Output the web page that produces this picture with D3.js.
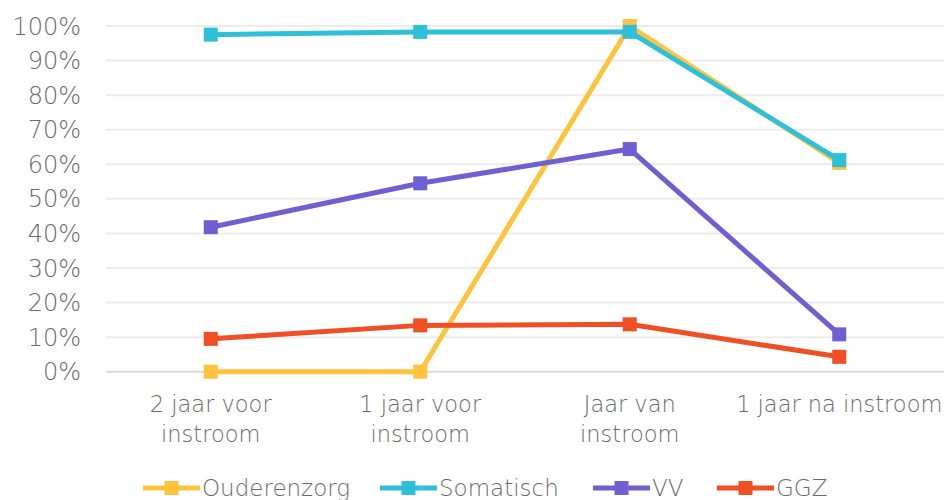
<!DOCTYPE html>
<html>
<head>
<meta charset="utf-8">
<script src="https://d3js.org/d3.v7.min.js"></script>
<style>
  body { margin: 0; background: #fff; }
  text { font-family: "DejaVu Sans", sans-serif; font-weight: 200; fill: #6a6a6a; }
</style>
</head>
<body>
<div id="chart"></div>
<script>
var categories = ["2 jaar voor|instroom", "1 jaar voor|instroom", "Jaar van|instroom", "1 jaar na instroom"];
var seriesNames = ["Ouderenzorg", "Somatisch", "VV", "GGZ"];
var ouderenzorg = [0, 0, 100, 60.4];
var somatisch = [97.5, 98.3, 98.3, 61.2];
var vv = [41.8, 54.5, 64.4, 10.8];
var ggz = [9.5, 13.4, 13.7, 4.3];
var colors = ["#ffc33c", "#2ec0d8", "#6e5fd3", "#f04e23"];
var yTicks = [0, 10, 20, 30, 40, 50, 60, 70, 80, 90, 100];

var width = 944, height = 500;
var margin = { left: 106, right: 0, top: 26, bottom: 128 };

var svg = d3.select("#chart").append("svg")
  .attr("width", width).attr("height", height);

var x = d3.scaleBand().domain(categories).range([margin.left, width - margin.right]);
var y = d3.scaleLinear().domain([0, 100]).range([height - margin.bottom - 0.3, margin.top]);

// gridlines
svg.append("g").selectAll("line").data(yTicks).enter().append("line")
  .attr("x1", margin.left).attr("x2", width)
  .attr("y1", function (d) { return y(d); }).attr("y2", function (d) { return y(d); })
  .attr("stroke", function (d) { return d === 0 ? "#d9d9d9" : "#ececec"; })
  .attr("stroke-width", 2);

// y labels
svg.append("g").selectAll("text").data(yTicks).enter().append("text")
  .attr("x", 81).attr("y", function (d) { return y(d); })
  .attr("dy", "0.36em")
  .attr("text-anchor", "end")
  .style("font-size", "24px")
  .text(function (d) { return d + "%"; });

// x labels
var xl = svg.append("g").selectAll("text").data(categories).enter().append("text")
  .attr("x", function (d) { return x(d) + x.bandwidth() / 2; })
  .attr("y", 412)
  .attr("text-anchor", "middle")
  .style("font-size", "22.5px");
xl.each(function (d) {
  var parts = d.split("|");
  var t = d3.select(this);
  parts.forEach(function (p, i) {
    t.append("tspan").attr("x", t.attr("x")).attr("dy", i === 0 ? 0 : 30).text(p);
  });
});

var allSeries = [ouderenzorg, somatisch, vv, ggz];
var line = d3.line()
  .x(function (d, i) { return x(categories[i]) + x.bandwidth() / 2; })
  .y(function (d) { return y(d); });

allSeries.forEach(function (vals, s) {
  var g = svg.append("g");
  g.append("path").datum(vals)
    .attr("d", line)
    .attr("fill", "none")
    .attr("stroke", colors[s])
    .attr("stroke-width", 5)
    .attr("stroke-linejoin", "round");
  g.selectAll("rect").data(vals).enter().append("rect")
    .attr("x", function (d, i) { return x(categories[i]) + x.bandwidth() / 2 - 7; })
    .attr("y", function (d) { return y(d) - 7; })
    .attr("width", 14).attr("height", 14)
    .attr("fill", colors[s]);
});

// legend
var legendX = [143, 380, 593, 717];
var lg = svg.append("g").selectAll("g").data(seriesNames).enter().append("g")
  .attr("transform", function (d, i) { return "translate(" + legendX[i] + ",488)"; });
lg.append("line").attr("x1", 0).attr("x2", 57).attr("y1", 0).attr("y2", 0)
  .attr("stroke", function (d, i) { return colors[i]; }).attr("stroke-width", 5);
lg.append("rect").attr("x", 21.5).attr("y", -7).attr("width", 14).attr("height", 14)
  .attr("fill", function (d, i) { return colors[i]; });
lg.append("text").attr("x", 59).attr("y", 0).attr("dy", "0.36em")
  .style("font-size", "23px")
  .text(function (d) { return d; });
</script>
</body>
</html>
